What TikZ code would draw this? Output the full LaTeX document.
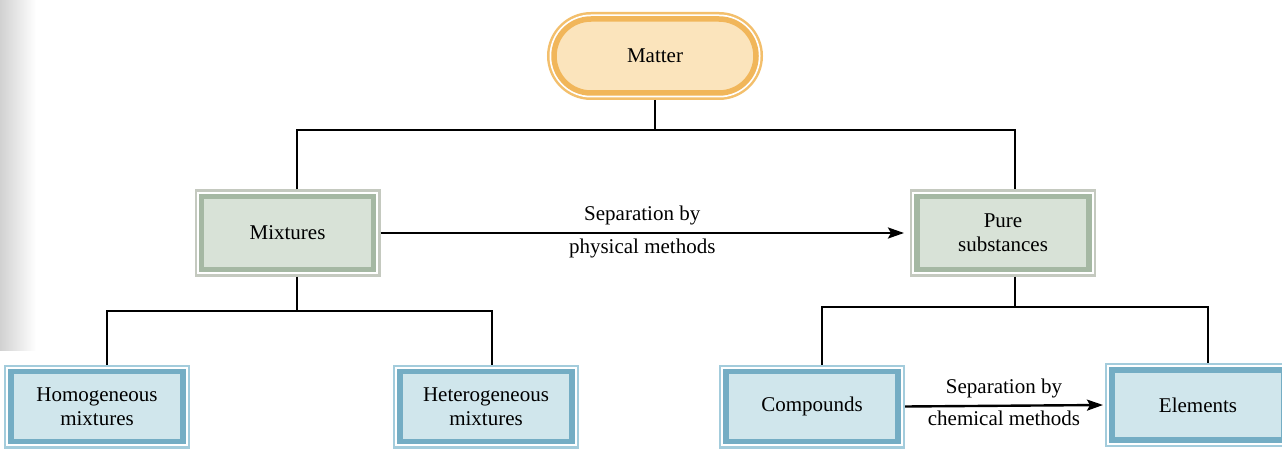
\documentclass[tikz,border=0pt]{standalone}
\usepackage{fontspec}
\setmainfont{Liberation Serif}
\usetikzlibrary{arrows.meta,shapes.misc}
\definecolor{grnout}{HTML}{C4C9BF}
\definecolor{grnband}{HTML}{A5B8A3}
\definecolor{grnfill}{HTML}{D8E2D7}
\definecolor{bluout}{HTML}{A3CCDC}
\definecolor{bluband}{HTML}{74ADC4}
\definecolor{blufill}{HTML}{D0E6EC}
\definecolor{orout}{HTML}{F3BF6C}
\definecolor{orband}{HTML}{F1B65A}
\definecolor{orfill}{HTML}{FBE4BC}
\tikzset{
  x=1pt, y=-1pt,
  txt/.style={font=\fontsize{21}{24}\selectfont, align=center},
  framed/.style n args={3}{rectangle, txt, minimum width=172pt, minimum height=73pt,
    inner sep=0pt, outer sep=7pt, fill=#3, draw=#2, line width=5.5pt,
    preaction={draw=#1, line width=14pt},
    preaction={draw=white, line width=9.5pt}},
  greenbox/.style={framed={grnout}{grnband}{grnfill}},
  bluebox/.style={framed={bluout}{bluband}{blufill}, minimum height=70pt},
  matterbox/.style={rounded rectangle, txt, minimum width=202pt, minimum height=74pt,
    inner sep=0pt, outer sep=7pt, fill=orfill, draw=orband, line width=5.5pt,
    preaction={draw=orout, line width=14pt},
    preaction={draw=white, line width=9pt}},
  conn/.style={line width=2.4pt, black},
  arr/.style={conn, -{Stealth[length=16pt,width=11pt,inset=3pt]}},
  lbl/.style={txt}
}
\begin{document}
\begin{tikzpicture}
\useasboundingbox (0,0) rectangle (1282,449);
\fill[white] (0,0) rectangle (1282,449);
\shade[left color=black!18, right color=white] (0,0) rectangle (36,350);

\node[matterbox] (matter) at (655,56) {Matter};
\node[greenbox] (mix) at (287.5,233) {Mixtures};
\node[greenbox] (pure) at (1003,233) {Pure\\substances};
\node[bluebox] (homo) at (97,406.5) {Homogeneous\\mixtures};
\node[bluebox] (het) at (486,406.5) {Heterogeneous\\mixtures};
\node[bluebox] (comp) at (812,406.5) {Compounds};
\node[bluebox] (elem) at (1198,405) {Elements};

\coordinate (jL) at (297,130);
\coordinate (jR) at (1015,130);
\coordinate (jHo) at (107,311);
\coordinate (jHe) at (492,311);
\coordinate (jC) at (822,307);
\coordinate (jE) at (1208,307);

\draw[conn] (matter.south) -- (matter.south |- jL);
\draw[conn] (mix.north -| jL) -- (jL) -- (jR) -- (pure.north -| jR);
\draw[conn] (mix.south -| jL) -- (jL |- jHo);
\draw[conn] (homo.north -| jHo) -- (jHo) -- (jHe) -- (het.north -| jHe);
\draw[conn] (pure.south -| jR) -- (jR |- jC);
\draw[conn] (comp.north -| jC) -- (jC) -- (jE) -- (elem.north -| jE);

\draw[arr] (mix.east) -- ([xshift=-6pt]pure.west)
  node[lbl, midway, above=3pt] {Separation by}
  node[lbl, midway, below=1pt] {physical methods};
\draw[arr] (comp.east) -- ([xshift=-2pt]elem.west)
  node[lbl, midway, above=3pt] {Separation by}
  node[lbl, midway, below=1pt] {chemical methods};
\end{tikzpicture}
\end{document}
